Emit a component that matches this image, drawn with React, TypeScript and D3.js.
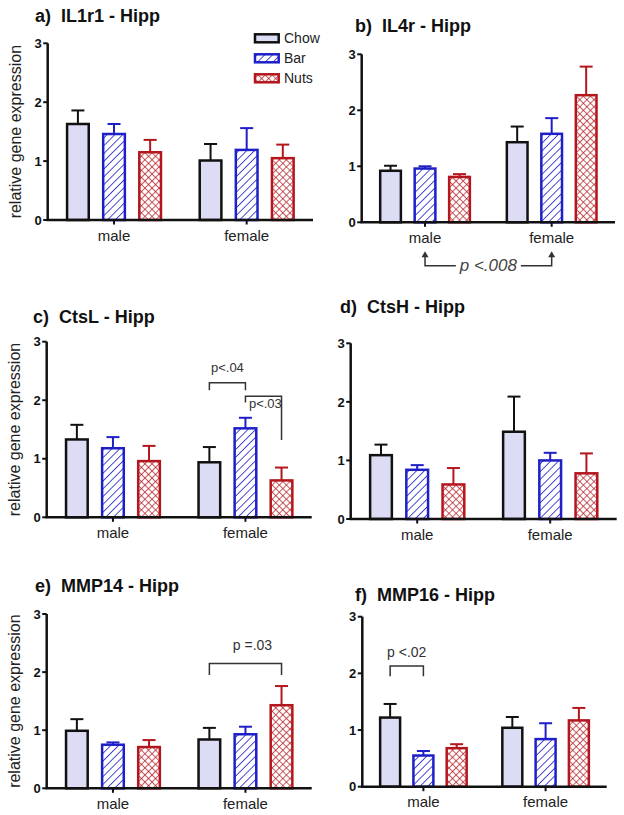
import React from "react";
import * as d3 from "d3";

// ---------- data ----------
const groups = ["male", "female"];
const series = ["Chow", "Bar", "Nuts"];
const yTicks = [0, 1, 2, 3];
const yLabel = "relative gene expression";
const panelLetters = ["a)", "b)", "c)", "d)", "e)", "f)"];
const panelGenes = ["IL1r1 - Hipp", "IL4r - Hipp", "CtsL - Hipp", "CtsH - Hipp", "MMP14 - Hipp", "MMP16 - Hipp"];

// means [male, female] x [Chow, Bar, Nuts]
const il1r1Mean = [[1.63, 1.46, 1.15], [1.01, 1.19, 1.05]];
const il1r1Sem = [[0.23, 0.17, 0.21], [0.28, 0.37, 0.23]];
const il4rMean = [[0.92, 0.96, 0.81], [1.43, 1.58, 2.27]];
const il4rSem = [[0.09, 0.04, 0.05], [0.28, 0.28, 0.51]];
const ctslMean = [[1.33, 1.18, 0.96], [0.94, 1.52, 0.63]];
const ctslSem = [[0.25, 0.19, 0.26], [0.26, 0.18, 0.22]];
const ctshMean = [[1.09, 0.84, 0.59], [1.49, 1.0, 0.78]];
const ctshSem = [[0.18, 0.08, 0.28], [0.6, 0.13, 0.34]];
const mmp14Mean = [[0.99, 0.75, 0.71], [0.84, 0.93, 1.43]];
const mmp14Sem = [[0.2, 0.04, 0.12], [0.2, 0.13, 0.33]];
const mmp16Mean = [[1.22, 0.55, 0.68], [1.04, 0.84, 1.17]];
const mmp16Sem = [[0.24, 0.08, 0.07], [0.19, 0.28, 0.22]];

const panelMeans = [il1r1Mean, il4rMean, ctslMean, ctshMean, mmp14Mean, mmp16Mean];
const panelSems = [il1r1Sem, il4rSem, ctslSem, ctshSem, mmp14Sem, mmp16Sem];

// significance brackets (y in data units)
const sigBrackets = [
  { panel: 2, label: "p<.04", group: "female", from: "Chow", to: "Bar", y: 2.3, dropFrom: 2.17, dropTo: 2.17 },
  { panel: 2, label: "p<.03", group: "female", from: "Bar", to: "Nuts", y: 2.07, dropFrom: 1.96, dropTo: 1.32 },
  { panel: 4, label: "p =.03", group: "female", from: "Chow", to: "Nuts", y: 2.15, dropFrom: 1.95, dropTo: 1.95 },
  { panel: 5, label: "p <.02", group: "male", from: "Chow", to: "Bar", y: 2.13, dropFrom: 1.95, dropTo: 1.95 },
];
const groupComparisons = [{ panel: 1, label: "p <.008", from: "male", to: "female" }];

// ---------- layout / style ----------
const layouts = [
  { left: 47.7, right: 313, top: 43.3, bottom: 220, titleX: 35, titleY: 22, yLabel: true },
  { left: 361.7, right: 615, top: 54.3, bottom: 222.3, titleX: 355, titleY: 31.7, yLabel: false },
  { left: 46.7, right: 311.7, top: 341.7, bottom: 517.3, titleX: 33, titleY: 323.3, yLabel: true },
  { left: 350.7, right: 616.7, top: 343.3, bottom: 519, titleX: 340, titleY: 313.3, yLabel: false },
  { left: 46.7, right: 311.7, top: 614, bottom: 788.3, titleX: 35, titleY: 591.7, yLabel: true },
  { left: 362.3, right: 606.7, top: 616.7, bottom: 786.7, titleX: 355, titleY: 600.7, yLabel: false },
];
const bracketTextStyle = [
  { dx: 0, dy: -11, anchor: "middle", size: 13 },
  { dx: 3.5, dy: 12.3, anchor: "start", size: 13 },
  { dx: 7, dy: -13.3, anchor: "middle", size: 14 },
  { dx: 0, dy: -9.3, anchor: "middle", size: 14 },
];

const FONT = "'Liberation Sans', Arial, sans-serif";
const strokeColors: Record<string, string> = { Chow: "#111111", Bar: "#1f1fc8", Nuts: "#b3161d" };
const fills: Record<string, string> = { Chow: "#dcdcf5", Bar: "url(#hatchBlue)", Nuts: "url(#crossRed)" };
const legendPos = { x: 255, y: 38.3, step: 20, w: 25.7, h: 8 };

function Panel({ idx }: { idx: number }) {
  const L = layouts[idx];
  const means = panelMeans[idx];
  const sems = panelSems[idx];
  const y = d3.scaleLinear().domain([0, 3]).range([L.bottom, L.top]);
  const xg = d3.scalePoint<string>().domain(groups).range([L.left, L.right]).padding(0.5);
  const gStep = xg.step();
  const xs = d3
    .scaleBand<string>()
    .domain(series)
    .range([-0.354 * gStep, 0.354 * gStep])
    .paddingInner(0.4)
    .paddingOuter(0);
  const bw = xs.bandwidth();
  const cx = (g: string, s: string) => (xg(g) as number) + (xs(s) as number) + bw / 2;

  return (
    <g>
      <text x={L.titleX} y={L.titleY} fontFamily={FONT} fontWeight="bold" fontSize={18} fill="#111" style={{ whiteSpace: "pre" }}>
        {panelLetters[idx] + "  " + panelGenes[idx]}
      </text>
      {L.yLabel && (
        <text
          transform={`translate(${L.left - 32.5},${(L.top + L.bottom) / 2}) rotate(-90)`}
          textAnchor="middle"
          dominantBaseline="central"
          fontFamily={FONT}
          fontSize={16}
          fill="#222"
        >
          {yLabel}
        </text>
      )}
      {groups.map((g, gi) =>
        series.map((s, si) => {
          const m = means[gi][si];
          const e = sems[gi][si];
          const x0 = (xg(g) as number) + (xs(s) as number);
          const c = cx(g, s);
          return (
            <g key={g + s}>
              <line x1={c} x2={c} y1={y(m)} y2={y(m + e)} stroke={strokeColors[s]} strokeWidth={2} />
              <line x1={c - 6.5} x2={c + 6.5} y1={y(m + e)} y2={y(m + e)} stroke={strokeColors[s]} strokeWidth={2} />
              <rect x={x0} y={y(m)} width={bw} height={L.bottom - y(m)} fill={fills[s]} stroke={strokeColors[s]} strokeWidth={2.5} />
            </g>
          );
        })
      )}
      {/* axes */}
      <line x1={L.left} x2={L.left} y1={L.top} y2={L.bottom} stroke="#111" strokeWidth={2.5} />
      <line x1={L.left - 1.25} x2={L.right} y1={L.bottom} y2={L.bottom} stroke="#111" strokeWidth={2.5} />
      {yTicks.map((t) => (
        <g key={t}>
          <line x1={L.left - 4.5} x2={L.left} y1={y(t)} y2={y(t)} stroke="#111" strokeWidth={2} />
          <text x={L.left - 6} y={y(t)} dy="0.36em" textAnchor="end" fontFamily={FONT} fontWeight="bold" fontSize={13} fill="#111">
            {t}
          </text>
        </g>
      ))}
      {groups.map((g) => (
        <g key={g}>
          <line x1={xg(g)} x2={xg(g)} y1={L.bottom} y2={L.bottom + 4.5} stroke="#111" strokeWidth={2} />
          <text x={xg(g)} y={L.bottom + 20.5} textAnchor="middle" fontFamily={FONT} fontSize={15} fill="#222">
            {g}
          </text>
        </g>
      ))}
      {sigBrackets.map((b, bi) => {
        if (b.panel !== idx) return null;
        const st = bracketTextStyle[bi];
        const x1 = cx(b.group, b.from);
        const x2 = cx(b.group, b.to);
        const yy = y(b.y);
        const tx = st.anchor === "middle" ? (x1 + x2) / 2 + st.dx : x1 + st.dx;
        return (
          <g key={bi}>
            <path
              d={`M${x1},${y(b.dropFrom)}V${yy}H${x2}V${y(b.dropTo)}`}
              fill="none"
              stroke="#333"
              strokeWidth={1.5}
            />
            <text x={tx} y={yy + st.dy} textAnchor={st.anchor} fontFamily={FONT} fontSize={st.size} fill="#333">
              {b.label}
            </text>
          </g>
        );
      })}
      {groupComparisons.map((c, ci) => {
        if (c.panel !== idx) return null;
        const xa = xg(c.from) as number;
        const xb = xg(c.to) as number;
        const tip = L.bottom + 29;
        const base = L.bottom + 43.4;
        const mid = (xa + xb) / 2;
        return (
          <g key={"gc" + ci}>
            <path d={`M${xa},${tip + 5}V${base}H${mid - 32.5}`} fill="none" stroke="#333" strokeWidth={1.5} />
            <path d={`M${mid + 32.5},${base}H${xb}V${tip + 5}`} fill="none" stroke="#333" strokeWidth={1.5} />
            <path d={`M${xa - 3.5},${tip + 6}L${xa},${tip}L${xa + 3.5},${tip + 6}Z`} fill="#333" />
            <path d={`M${xb - 3.5},${tip + 6}L${xb},${tip}L${xb + 3.5},${tip + 6}Z`} fill="#333" />
            <text x={mid} y={L.bottom + 48.6} textAnchor="middle" fontFamily={FONT} fontStyle="italic" fontSize={17} fill="#444">
              {c.label}
            </text>
          </g>
        );
      })}
    </g>
  );
}

export default function App() {
  return (
    <svg width={624} height={815} style={{ position: "absolute", left: 0, top: 0, background: "#fff" }}>
      <defs>
        <pattern id="hatchBlue" patternUnits="userSpaceOnUse" width={5.5} height={5.5} patternTransform="rotate(45)">
          <rect width={5.5} height={5.5} fill="#fff" />
          <line x1={0} y1={0} x2={0} y2={5.5} stroke="#1f1fc8" strokeWidth={1.6} />
        </pattern>
        <pattern id="crossRed" patternUnits="userSpaceOnUse" width={5} height={5} patternTransform="rotate(45)">
          <rect width={5} height={5} fill="#fff" />
          <line x1={0} y1={0} x2={0} y2={5} stroke="#b3161d" strokeWidth={1.4} />
          <line x1={0} y1={0} x2={5} y2={0} stroke="#b3161d" strokeWidth={1.4} />
        </pattern>
      </defs>
      <rect width={624} height={815} fill="#fff" />
      {layouts.map((_, i) => (
        <Panel key={i} idx={i} />
      ))}
      {series.map((s, i) => (
        <g key={s}>
          <rect
            x={legendPos.x}
            y={legendPos.y + i * legendPos.step - legendPos.h / 2}
            width={legendPos.w - 2}
            height={legendPos.h}
            fill={fills[s]}
            stroke={strokeColors[s]}
            strokeWidth={2.5}
          />
          <text x={legendPos.x + 29} y={legendPos.y + i * legendPos.step} dy="0.36em" fontFamily={FONT} fontSize={14} fill="#222">
            {s}
          </text>
        </g>
      ))}
    </svg>
  );
}
